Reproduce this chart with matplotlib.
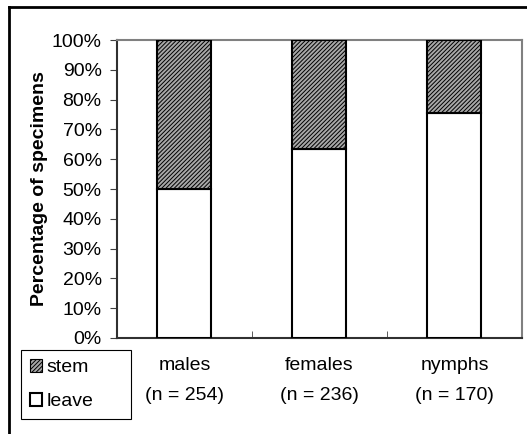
import matplotlib.pyplot as plt
from matplotlib.lines import Line2D
from matplotlib.patches import Patch

plt.rcParams["font.family"] = ["Liberation Sans", "DejaVu Sans"]
plt.rcParams["hatch.linewidth"] = 0.7

categories = ["males\n(n = 254)", "females\n(n = 236)", "nymphs\n(n = 170)"]
leave = [50.0, 63.5, 75.5]
stem = [50.0, 36.5, 24.5]

fig = plt.figure(figsize=(5.27, 4.34), dpi=100)
fig.set_facecolor("white")
ax = fig.add_axes([0.222, 0.2212, 0.7685, 0.6866])

x = range(len(categories))
ax.bar(x, leave, width=0.4, color="white", edgecolor="black", lw=1.5, label="leave", zorder=3)
ax.bar(x, stem, bottom=leave, width=0.4, color="#a8a8a8", edgecolor="black",
       hatch="////////", lw=1.5, label="stem", zorder=3)

ax.set_xlim(-0.5, 2.5)
ax.set_ylim(0, 100)
ax.set_yticks(range(0, 101, 10))
ax.set_yticklabels([f"{v}%" for v in range(0, 101, 10)])
ax.set_xticks(list(x))
ax.set_xticklabels(categories, linespacing=1.95)
ax.set_xticks([0.5, 1.5], minor=True)
ax.tick_params(axis="x", which="major", length=0, pad=14, labelsize=14)
ax.tick_params(axis="x", which="minor", length=5, direction="in", color="#404040")
ax.tick_params(axis="y", length=5, direction="out", pad=6, labelsize=14, color="#404040")
ax.set_ylabel("Percentage of specimens", fontsize=14, fontweight="bold", labelpad=3)

for side in ["top", "right"]:
    ax.spines[side].set_color("#808080")
    ax.spines[side].set_linewidth(1.5)
for side in ["left", "bottom"]:
    ax.spines[side].set_color("#303030")
    ax.spines[side].set_linewidth(1.5)

handles = [Patch(facecolor="#a8a8a8", edgecolor="black", hatch="////////", lw=0.8, label="stem"),
           Patch(facecolor="white", edgecolor="black", lw=1.5, label="leave")]
leg = fig.legend(handles=handles, loc="lower left", bbox_to_anchor=(0.04, 0.035, 0.209, 0.161),
                 mode="expand", fancybox=False, edgecolor="black", framealpha=1,
                 fontsize=14, handlelength=0.65, handleheight=0.65, handletextpad=0.2,
                 labelspacing=0.85, borderpad=0.45, borderaxespad=0)
leg.get_frame().set_linewidth(0.8)

# outer frame (only top and left edges visible)
fig.add_artist(Line2D([9 / 527, 1], [1 - 7 / 434, 1 - 7 / 434], color="black", lw=2))
fig.add_artist(Line2D([9 / 527, 9 / 527], [0, 1 - 7 / 434], color="black", lw=2))

plt.savefig("out.png", dpi=100)
